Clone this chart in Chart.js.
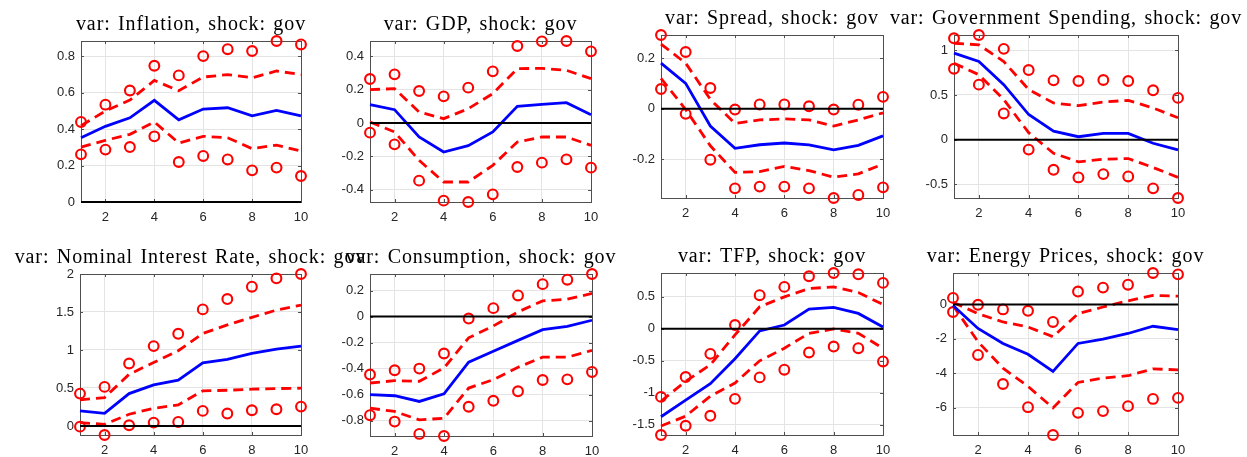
<!DOCTYPE html>
<html>
<head>
<meta charset="utf-8">
<script src="https://cdn.jsdelivr.net/npm/chart.js@4.4.1/dist/chart.umd.min.js"></script>
<style>
  html, body { margin: 0; padding: 0; background: #ffffff; }
  #wrap { position: relative; width: 1247px; height: 457px; overflow: hidden; background: #ffffff; }
  #wrap canvas { position: absolute; left: 0; top: 0; pointer-events: none; }
</style>
</head>
<body>
<div id="wrap"></div>
<script>
// Impulse horizons and x-axis ticks shared by every panel
const horizons = [1, 2, 3, 4, 5, 6, 7, 8, 9, 10];
const xTicks = [2, 4, 6, 8, 10];

// Inflation
const inflIrf  = [0.353, 0.416, 0.463, 0.559, 0.452, 0.511, 0.518, 0.474, 0.504, 0.474];
const inflUp68 = [0.42, 0.50, 0.56, 0.668, 0.612, 0.687, 0.70, 0.683, 0.72, 0.70];
const inflLo68 = [0.302, 0.339, 0.372, 0.44, 0.324, 0.361, 0.353, 0.293, 0.313, 0.28];
const inflUp90 = [0.44, 0.535, 0.613, 0.749, 0.696, 0.802, 0.84, 0.83, 0.885, 0.866];
const inflLo90 = [0.262, 0.288, 0.302, 0.361, 0.22, 0.253, 0.234, 0.174, 0.189, 0.143];
const inflTicks = [0, 0.2, 0.4, 0.6, 0.8];

// GDP
const gdpIrf  = [0.11, 0.08, -0.084, -0.174, -0.136, -0.054, 0.10, 0.112, 0.122, 0.05];
const gdpUp68 = [0.20, 0.206, 0.066, 0.026, 0.086, 0.176, 0.326, 0.328, 0.316, 0.266];
const gdpLo68 = [0.006, -0.054, -0.224, -0.354, -0.354, -0.254, -0.114, -0.084, -0.084, -0.134];
const gdpUp90 = [0.264, 0.292, 0.192, 0.16, 0.212, 0.31, 0.462, 0.49, 0.492, 0.43];
const gdpLo90 = [-0.058, -0.128, -0.346, -0.466, -0.474, -0.428, -0.264, -0.238, -0.218, -0.268];
const gdpTicks = [-0.4, -0.2, 0, 0.2, 0.4];

// Spread
const sprIrf  = [0.18, 0.10, -0.068, -0.156, -0.142, -0.135, -0.142, -0.162, -0.144, -0.107];
const sprUp68 = [0.255, 0.18, 0.037, -0.058, -0.044, -0.04, -0.044, -0.068, -0.044, -0.016];
const sprLo68 = [0.12, -0.003, -0.146, -0.251, -0.248, -0.227, -0.244, -0.27, -0.257, -0.218];
const sprUp90 = [0.291, 0.224, 0.082, -0.003, 0.017, 0.017, 0.01, -0.003, 0.016, 0.047];
const sprLo90 = [0.078, -0.02, -0.201, -0.314, -0.307, -0.307, -0.314, -0.352, -0.34, -0.31];
const sprTicks = [-0.2, 0, 0.2];

// Government Spending
const govIrf  = [0.967, 0.874, 0.615, 0.281, 0.096, 0.033, 0.07, 0.07, -0.04, -0.115];
const govUp68 = [1.078, 1.06, 0.874, 0.56, 0.41, 0.38, 0.42, 0.44, 0.355, 0.245];
const govLo68 = [0.855, 0.726, 0.448, 0.078, -0.152, -0.248, -0.218, -0.211, -0.311, -0.422];
const govUp90 = [1.133, 1.17, 1.015, 0.778, 0.663, 0.656, 0.667, 0.656, 0.552, 0.467];
const govLo90 = [0.793, 0.615, 0.293, -0.111, -0.337, -0.422, -0.385, -0.411, -0.544, -0.652];
const govTicks = [-0.5, 0, 0.5, 1];

// Nominal Interest Rate
const rateIrf  = [0.198, 0.167, 0.426, 0.541, 0.602, 0.831, 0.875, 0.954, 1.011, 1.05];
const rateUp68 = [0.343, 0.374, 0.68, 0.835, 0.99, 1.218, 1.33, 1.43, 1.525, 1.59];
const rateLo68 = [0.044, 0.022, 0.154, 0.233, 0.277, 0.462, 0.47, 0.484, 0.492, 0.497];
const rateUp90 = [0.426, 0.514, 0.822, 1.051, 1.213, 1.534, 1.67, 1.833, 1.943, 2.0];
const rateLo90 = [-0.009, -0.119, 0.009, 0.044, 0.053, 0.198, 0.163, 0.207, 0.22, 0.255];
const rateTicks = [0, 0.5, 1, 1.5, 2];

// Consumption
const consIrf  = [-0.601, -0.609, -0.653, -0.594, -0.351, -0.266, -0.183, -0.101, -0.075, -0.028];
const consUp68 = [-0.511, -0.493, -0.498, -0.395, -0.163, -0.072, 0.036, 0.121, 0.134, 0.178];
const consLo68 = [-0.705, -0.73, -0.795, -0.782, -0.55, -0.485, -0.39, -0.312, -0.312, -0.26];
const consUp90 = [-0.446, -0.413, -0.4, -0.284, -0.015, 0.065, 0.163, 0.25, 0.284, 0.328];
const consLo90 = [-0.759, -0.808, -0.903, -0.919, -0.694, -0.648, -0.575, -0.488, -0.483, -0.426];
const consTicks = [-0.8, -0.6, -0.4, -0.2, 0, 0.2];

// TFP
const tfpIrf  = [-1.378, -1.119, -0.86, -0.471, -0.036, 0.057, 0.306, 0.332, 0.238, 0.026];
const tfpUp68 = [-1.135, -0.824, -0.565, -0.098, 0.342, 0.497, 0.627, 0.653, 0.565, 0.378];
const tfpLo68 = [-1.523, -1.368, -1.057, -0.85, -0.503, -0.306, -0.073, -0.005, -0.073, -0.306];
const tfpUp90 = [-1.067, -0.756, -0.394, 0.057, 0.523, 0.653, 0.819, 0.87, 0.85, 0.715];
const tfpLo90 = [-1.663, -1.518, -1.363, -1.098, -0.762, -0.642, -0.373, -0.28, -0.306, -0.513];
const tfpTicks = [-1.5, -1, -0.5, 0, 0.5];

// Energy Prices
const enIrf  = [-0.06, -1.40, -2.27, -2.9, -3.9, -2.27, -2.02, -1.69, -1.27, -1.46];
const enUp68 = [0.13, -0.54, -1.02, -1.31, -1.88, -0.54, -0.15, 0.21, 0.52, 0.48];
const enLo68 = [-0.06, -2.17, -3.71, -4.77, -6.02, -4.54, -4.29, -4.15, -3.75, -3.81];
const enUp90 = [0.38, -0.02, -0.29, -0.37, -1.02, 0.75, 0.98, 1.15, 1.83, 1.75];
const enLo90 = [-0.44, -2.94, -4.63, -5.98, -7.6, -6.31, -6.21, -5.92, -5.5, -5.44];
const enTicks = [-6, -4, -2, 0];

const titles = [
  'var: Inflation, shock: gov',
  'var: GDP, shock: gov',
  'var: Spread, shock: gov',
  'var: Government Spending, shock: gov',
  'var: Nominal Interest Rate, shock: gov',
  'var: Consumption, shock: gov',
  'var: TFP, shock: gov',
  'var: Energy Prices, shock: gov'
];

const panels = [
  { irf: inflIrf, up68: inflUp68, lo68: inflLo68, up90: inflUp90, lo90: inflLo90, yTicks: inflTicks },
  { irf: gdpIrf,  up68: gdpUp68,  lo68: gdpLo68,  up90: gdpUp90,  lo90: gdpLo90,  yTicks: gdpTicks },
  { irf: sprIrf,  up68: sprUp68,  lo68: sprLo68,  up90: sprUp90,  lo90: sprLo90,  yTicks: sprTicks },
  { irf: govIrf,  up68: govUp68,  lo68: govLo68,  up90: govUp90,  lo90: govLo90,  yTicks: govTicks },
  { irf: rateIrf, up68: rateUp68, lo68: rateLo68, up90: rateUp90, lo90: rateLo90, yTicks: rateTicks },
  { irf: consIrf, up68: consUp68, lo68: consLo68, up90: consUp90, lo90: consLo90, yTicks: consTicks },
  { irf: tfpIrf,  up68: tfpUp68,  lo68: tfpLo68,  up90: tfpUp90,  lo90: tfpLo90,  yTicks: tfpTicks },
  { irf: enIrf,   up68: enUp68,   lo68: enLo68,   up90: enUp90,   lo90: enLo90,   yTicks: enTicks }
];

// Plot-area rectangles on the page: [left, right, top, bottom]
const frames = [
  [81, 301, 41, 202], [370, 591, 41, 202], [661, 883, 35, 198], [954, 1178, 35, 198],
  [80, 301, 274, 435], [370, 592, 274, 436], [661, 883, 273, 435], [953, 1178, 273, 435]
];

const PAGE_W = 1247, PAGE_H = 457;
const Y_AXIS_W = 60, X_AXIS_H = 30;
const AXIS_COLOR = '#4f4f4f';
const TICK_COLOR = '#262626';
const GRID_COLOR = '#e4e4e4';

// Axes box, inward tick marks, zero line and panel title
const matlabAxes = {
  id: 'matlabAxes',
  beforeDatasetsDraw(chart) {
    const { ctx, chartArea: a, scales: { x, y } } = chart;
    ctx.save();
    ctx.strokeStyle = AXIS_COLOR;
    ctx.lineWidth = 1;
    ctx.strokeRect(Math.round(a.left) + 0.5, Math.round(a.top) + 0.5,
                   Math.round(a.right - a.left), Math.round(a.bottom - a.top));
    const len = 3;
    ctx.beginPath();
    x.ticks.forEach(t => {
      const px = Math.round(x.getPixelForValue(t.value)) + 0.5;
      ctx.moveTo(px, a.bottom); ctx.lineTo(px, a.bottom - len);
      ctx.moveTo(px, a.top); ctx.lineTo(px, a.top + len);
    });
    y.ticks.forEach(t => {
      const py = Math.round(y.getPixelForValue(t.value)) + 0.5;
      ctx.moveTo(a.left, py); ctx.lineTo(a.left + len, py);
      ctx.moveTo(a.right, py); ctx.lineTo(a.right - len, py);
    });
    ctx.stroke();
    ctx.restore();
  },
  afterDatasetsDraw(chart) {
    const { ctx, scales: { x, y } } = chart;
    const y0 = y.getPixelForValue(0);
    ctx.save();
    ctx.strokeStyle = '#000000';
    ctx.lineWidth = 2;
    ctx.beginPath();
    ctx.moveTo(x.getPixelForValue(horizons[0]), y0);
    ctx.lineTo(x.getPixelForValue(horizons[horizons.length - 1]), y0);
    ctx.stroke();
    ctx.restore();
  },
  afterDraw(chart, args, opts) {
    const { ctx, chartArea: a } = chart;
    ctx.save();
    ctx.font = '20px "Liberation Serif", "Times New Roman", serif';
    ctx.fillStyle = '#000000';
    ctx.textAlign = 'center';
    ctx.textBaseline = 'alphabetic';
    try { ctx.letterSpacing = '0.9px'; ctx.wordSpacing = '1.5px'; } catch (e) {}
    ctx.fillText(opts.text, (a.left + a.right) / 2, a.top - 11);
    ctx.restore();
  }
};

const toPoints = arr => horizons.map((h, i) => ({ x: h, y: arr[i] }));

const wrap = document.getElementById('wrap');

panels.forEach((p, k) => {
  const [L, R, T, B] = frames[k];
  const canvas = document.createElement('canvas');
  canvas.width = PAGE_W; canvas.height = PAGE_H;
  canvas.style.width = PAGE_W + 'px'; canvas.style.height = PAGE_H + 'px';
  wrap.appendChild(canvas);

  const all = [].concat(p.irf, p.up68, p.lo68, p.up90, p.lo90, [0]);
  const yMin = Math.min(...all), yMax = Math.max(...all);

  const lineDs = (arr, color, dash) => ({
    data: toPoints(arr), showLine: true, borderColor: color, borderWidth: 2.8,
    borderDash: dash, pointRadius: 0, fill: false, tension: 0, clip: false
  });
  const ringDs = arr => ({
    data: toPoints(arr), showLine: false, pointStyle: 'circle', pointRadius: 4.9,
    pointBorderWidth: 2.1, pointBorderColor: '#ff0000', pointBackgroundColor: 'rgba(0,0,0,0)',
    clip: false
  });

  new Chart(canvas, {
    type: 'scatter',
    data: {
      datasets: [
        lineDs(p.irf, '#0000ff', []),
        lineDs(p.up68, '#ff0000', [10, 6]),
        lineDs(p.lo68, '#ff0000', [10, 6]),
        ringDs(p.up90),
        ringDs(p.lo90)
      ]
    },
    options: {
      responsive: false,
      devicePixelRatio: 1,
      animation: false,
      events: [],
      layout: {
        padding: { left: L - Y_AXIS_W, right: PAGE_W - R, top: T, bottom: PAGE_H - B - X_AXIS_H }
      },
      plugins: {
        legend: { display: false },
        tooltip: { enabled: false },
        title: { display: false },
        matlabAxes: { text: titles[k] }
      },
      scales: {
        x: {
          type: 'linear',
          min: horizons[0], max: horizons[horizons.length - 1],
          afterBuildTicks: s => { s.ticks = xTicks.map(v => ({ value: v })); },
          afterFit: s => { s.height = X_AXIS_H; },
          grid: { color: GRID_COLOR, lineWidth: 1, drawTicks: false },
          border: { display: false },
          ticks: {
            padding: 8, color: TICK_COLOR, autoSkip: false, maxRotation: 0,
            font: { family: '"Liberation Sans", Arial, sans-serif', size: 13 },
            callback: v => String(v)
          }
        },
        y: {
          type: 'linear',
          min: yMin, max: yMax,
          afterBuildTicks: s => { s.ticks = p.yTicks.map(v => ({ value: v })); },
          afterFit: s => { s.width = Y_AXIS_W; },
          grid: { color: GRID_COLOR, lineWidth: 1, drawTicks: false },
          border: { display: false },
          ticks: {
            padding: 6, color: TICK_COLOR, autoSkip: false,
            font: { family: '"Liberation Sans", Arial, sans-serif', size: 13 },
            callback: v => String(v)
          }
        }
      }
    },
    plugins: [matlabAxes]
  });
});
</script>
</body>
</html>
